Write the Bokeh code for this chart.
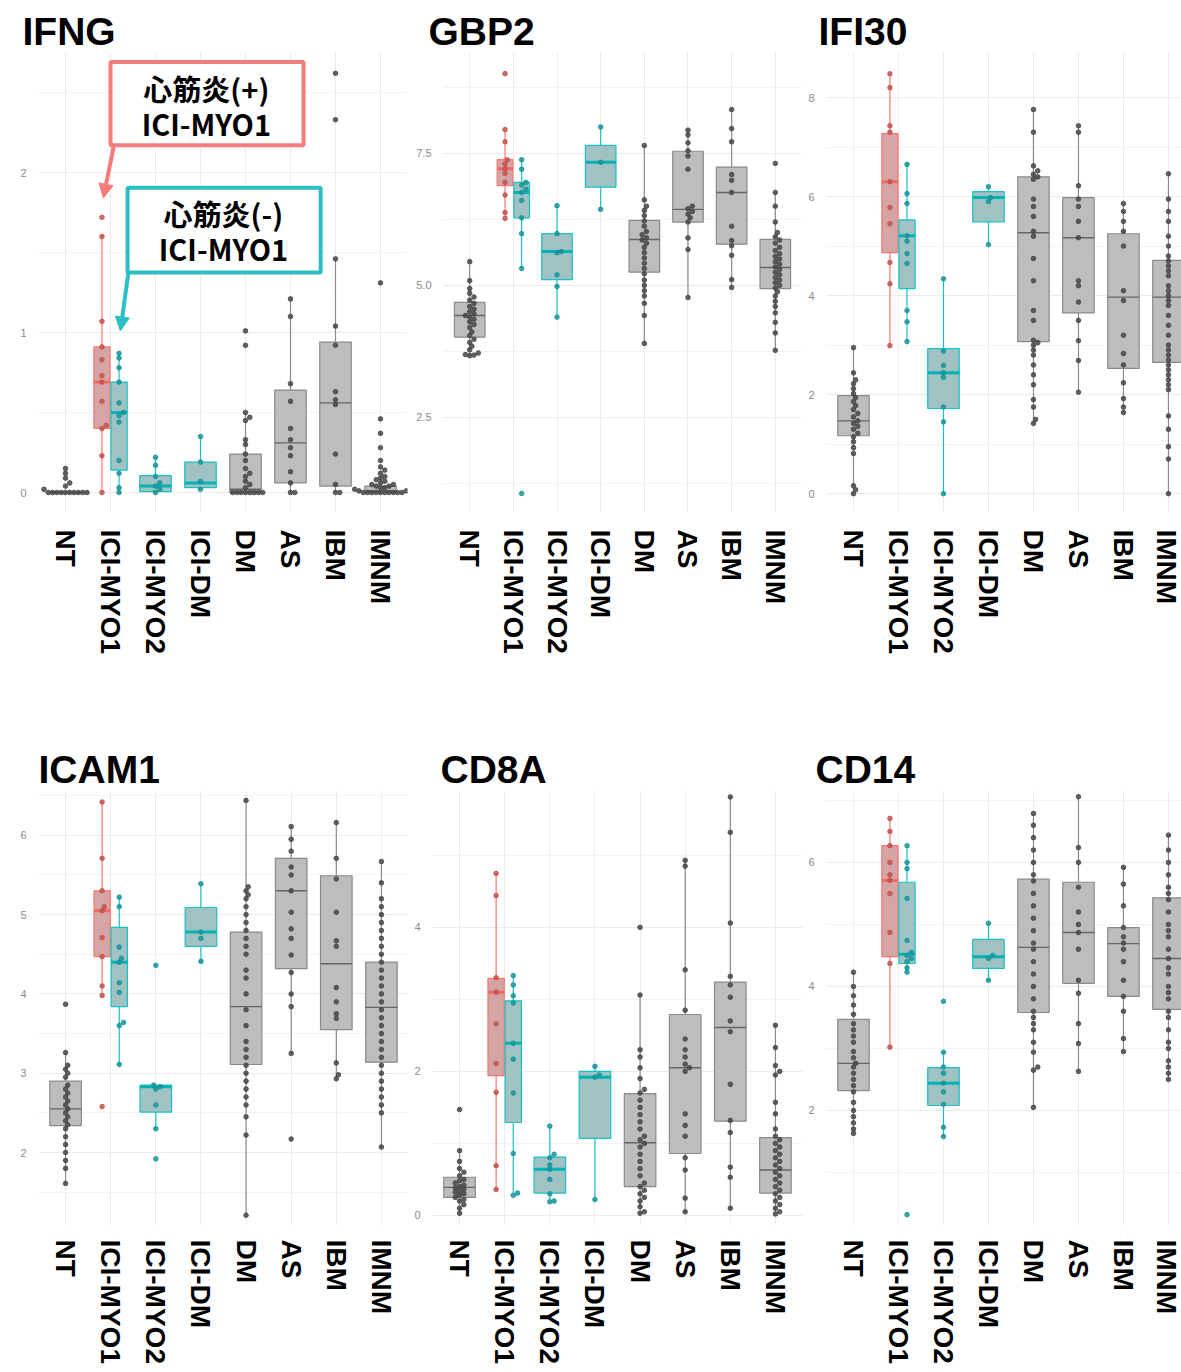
import numpy as np
from bokeh.plotting import figure
from bokeh.layouts import row, column
from bokeh.models import (FixedTicker, BoxAnnotation, Label, Arrow, NormalHead,
                          ColumnDataSource, Range1d)
from bokeh.embed import file_html
from bokeh.resources import INLINE

# ---------------------------------------------------------------- data
categories = ["NT", "ICI-MYO1", "ICI-MYO2", "ICI-DM", "DM", "AS", "IBM", "IMNM"]
groups = ["NT", "ICI-MYO1 心筋炎(+)", "ICI-MYO1 心筋炎(-)", "ICI-MYO2", "ICI-DM",
          "DM", "AS", "IBM", "IMNM"]
group_category = [1, 2, 2, 3, 4, 5, 6, 7, 8]
group_kind = ["gray", "red", "cyan", "cyan", "cyan", "gray", "gray", "gray", "gray"]

# ---- IFNG
ifng_lo = [0.00, 0.00, 0.00, 0.00, 0.02, 0.00, 0.00, 0.00, 0.00]
ifng_q1 = [0.00, 0.40, 0.14, 0.005, 0.03, 0.00, 0.06, 0.04, 0.00]
ifng_med = [0.00, 0.69, 0.50, 0.04, 0.06, 0.02, 0.31, 0.56, 0.01]
ifng_q3 = [0.00, 0.91, 0.69, 0.105, 0.19, 0.24, 0.64, 0.94, 0.04]
ifng_hi = [0.00, 1.60, 0.87, 0.22, 0.35, 0.50, 1.21, 1.46, 0.10]
ifng_pts = [
    [0.15, 0.12, 0.09, 0.06, 0.04, 0.02, 0, 0, 0, 0, 0, 0, 0, 0, 0, 0],
    [1.72, 1.60, 1.07, 0.91, 0.83, 0.73, 0.69, 0.57, 0.42, 0.40, 0.23, 0.00],
    [0.87, 0.84, 0.78, 0.69, 0.56, 0.50, 0.48, 0.44, 0.20, 0.12, 0.03, 0.00],
    [0.22, 0.17, 0.10, 0.06, 0.04, 0.02, 0.00],
    [0.35, 0.19, 0.07, 0.02],
    [1.01, 0.92, 0.50, 0.47, 0.45, 0.33, 0.30, 0.24, 0.20, 0.15, 0.12, 0.10, 0.07,
     0.05, 0.03, 0, 0, 0, 0, 0, 0, 0, 0],
    [1.21, 1.10, 0.68, 0.57, 0.40, 0.33, 0.28, 0.23, 0.13, 0.06, 0.00, 0.00],
    [2.62, 2.33, 1.46, 1.04, 0.92, 0.63, 0.58, 0.55, 0.24, 0.05, 0.00, 0.00],
    [1.31, 0.46, 0.37, 0.28, 0.20, 0.16, 0.14, 0.12, 0.10, 0.09, 0.08, 0.07, 0.06,
     0.05, 0.05, 0.04, 0.04, 0.03, 0.03, 0.02, 0.02, 0.01, 0.01,
     0, 0, 0, 0, 0, 0, 0, 0, 0, 0],
]
ifng_ticks = [0, 1, 2]
ifng_tick_labels = ["0", "1", "2"]

# ---- GBP2
gbp2_lo = [3.67, 6.27, 5.32, 4.40, 6.44, 3.90, 4.77, 4.96, 3.77]
gbp2_q1 = [4.02, 6.89, 6.28, 5.11, 6.86, 5.25, 6.20, 5.78, 4.94]
gbp2_med = [4.43, 7.21, 6.76, 5.64, 7.33, 5.87, 6.44, 6.76, 5.34]
gbp2_q3 = [4.68, 7.38, 6.95, 5.98, 7.65, 6.23, 7.54, 7.24, 5.87]
gbp2_hi = [5.45, 7.95, 7.38, 6.51, 8.00, 7.65, 7.94, 8.33, 6.76]
gbp2_pts = [
    [5.45, 5.09, 4.94, 4.85, 4.78, 4.72, 4.66, 4.60, 4.55, 4.50, 4.46, 4.43, 4.40,
     4.36, 4.31, 4.26, 4.20, 4.12, 4.05, 3.98, 3.92, 3.85, 3.78, 3.72, 3.69, 3.68, 3.67],
    [9.01, 7.95, 7.72, 7.38, 7.30, 7.21, 7.12, 6.95, 6.71, 6.38, 6.27],
    [7.38, 7.20, 6.95, 6.90, 6.82, 6.76, 6.61, 6.28, 5.98, 5.32, 1.06],
    [6.51, 5.98, 5.64, 5.62, 5.20, 4.98, 4.40],
    [8.00, 7.33, 6.44],
    [7.65, 6.62, 6.50, 6.42, 6.32, 6.22, 6.12, 6.02, 5.96, 5.90, 5.86, 5.80, 5.72,
     5.62, 5.52, 5.42, 5.32, 5.22, 5.10, 5.00, 4.90, 4.80, 4.66, 4.43, 3.90],
    [7.94, 7.85, 7.70, 7.55, 7.45, 7.20, 6.50, 6.45, 6.40, 6.35, 6.28, 6.20, 5.90,
     5.68, 4.77],
    [8.33, 7.97, 7.72, 7.10, 6.99, 6.76, 6.12, 5.85, 5.75, 5.57, 5.11, 4.96],
    [7.31, 6.76, 6.50, 6.20, 6.00, 5.92, 5.86, 5.80, 5.72, 5.66, 5.60, 5.55, 5.50,
     5.45, 5.40, 5.35, 5.30, 5.25, 5.20, 5.15, 5.10, 5.05, 5.00, 4.95, 4.88, 4.80,
     4.70, 4.60, 4.48, 4.30, 4.10, 3.77],
]
gbp2_ticks = [2.5, 5.0, 7.5]
gbp2_tick_labels = ["2.5", "5.0", "7.5"]

# ---- IFI30
ifi30_lo = [0.00, 2.99, 3.07, 0.00, 5.03, 1.41, 2.05, 1.64, 0.00]
ifi30_q1 = [1.17, 4.87, 4.14, 1.72, 5.49, 3.07, 3.65, 2.53, 2.65]
ifi30_med = [1.47, 6.30, 5.21, 2.44, 5.98, 5.27, 5.17, 3.97, 3.97]
ifi30_q3 = [1.98, 7.27, 5.53, 2.93, 6.10, 6.40, 5.98, 5.25, 4.71]
ifi30_hi = [2.95, 8.48, 6.65, 4.34, 6.20, 7.76, 7.43, 5.86, 6.46]
ifi30_pts = [
    [2.95, 2.44, 2.30, 2.22, 2.12, 2.02, 1.94, 1.86, 1.78, 1.70, 1.62, 1.55, 1.47,
     1.42, 1.36, 1.30, 1.22, 1.15, 1.05, 0.93, 0.81, 0.16, 0.08, 0.00],
    [8.48, 8.20, 7.43, 7.30, 6.30, 5.78, 5.45, 4.67, 4.24, 2.99],
    [6.65, 6.06, 5.86, 5.21, 5.10, 4.85, 4.65, 3.70, 3.47, 3.07],
    [4.34, 2.88, 2.59, 2.44, 2.35, 1.75, 1.45, 0.00],
    [6.20, 5.98, 5.90, 5.03],
    [7.76, 7.30, 6.62, 6.52, 6.45, 6.40, 6.35, 5.95, 5.80, 5.60, 5.30, 5.20, 4.75,
     4.30, 3.70, 3.50, 3.10, 3.05, 3.00, 2.90, 2.80, 2.60, 2.40, 2.20, 1.90, 1.75,
     1.50, 1.42],
    [7.43, 7.30, 6.22, 5.95, 5.80, 5.50, 5.17, 4.30, 4.20, 3.87, 3.50, 3.09, 2.69, 2.05],
    [5.86, 5.70, 5.50, 5.30, 5.00, 4.10, 3.90, 3.20, 2.83, 2.60, 2.24, 1.92, 1.75, 1.64],
    [6.46, 5.95, 5.70, 5.50, 5.20, 5.00, 4.80, 4.70, 4.60, 4.50, 4.40, 4.20, 4.10,
     4.00, 3.90, 3.80, 3.60, 3.40, 3.20, 3.00, 2.90, 2.80, 2.70, 2.60, 2.50, 2.40,
     2.30, 2.20, 2.10, 1.57, 1.30, 0.95, 0.70, 0.00],
]
ifi30_ticks = [0, 2, 4, 6, 8]
ifi30_tick_labels = ["0", "2", "4", "6", "8"]

# ---- ICAM1
icam1_lo = [1.61, 3.98, 3.11, 2.30, 4.41, 1.21, 3.25, 2.93, 2.07]
icam1_q1 = [2.34, 4.47, 3.84, 2.51, 4.60, 3.11, 4.32, 3.55, 3.14]
icam1_med = [2.55, 5.05, 4.40, 2.83, 4.78, 3.84, 5.30, 4.38, 3.83]
icam1_q3 = [2.90, 5.30, 4.84, 2.85, 5.09, 4.78, 5.71, 5.49, 4.40]
icam1_hi = [3.26, 6.42, 5.22, 2.85, 5.39, 6.44, 6.11, 6.16, 5.67]
icam1_pts = [
    [3.87, 3.26, 3.10, 3.05, 3.00, 2.95, 2.85, 2.80, 2.75, 2.70, 2.65, 2.60, 2.55,
     2.50, 2.45, 2.40, 2.35, 2.30, 2.20, 2.10, 2.00, 1.90, 1.80, 1.61],
    [6.42, 5.71, 5.30, 5.10, 5.05, 4.71, 4.47, 4.10, 3.98, 2.58],
    [5.22, 5.10, 4.59, 4.45, 4.40, 4.14, 4.02, 3.64, 3.60, 3.11],
    [4.36, 2.85, 2.83, 2.80, 2.60, 2.30, 1.92],
    [5.39, 4.78, 4.70, 4.41],
    [6.44, 5.35, 5.30, 5.25, 5.20, 5.10, 5.00, 4.90, 4.80, 4.70, 4.60, 4.50, 4.30,
     4.20, 4.00, 3.80, 3.60, 3.40, 3.30, 3.20, 3.10, 3.00, 2.90, 2.80, 2.70, 2.60,
     2.45, 2.22, 1.21],
    [6.11, 5.95, 5.80, 5.60, 5.50, 5.30, 5.03, 4.82, 4.70, 4.49, 4.27, 4.00, 3.84,
     3.25, 2.17],
    [6.16, 5.71, 5.45, 5.03, 4.67, 4.60, 4.08, 3.90, 3.75, 3.69, 3.13, 2.98, 2.93],
    [5.67, 5.40, 5.20, 5.10, 5.00, 4.90, 4.80, 4.70, 4.60, 4.50, 4.40, 4.30, 4.20,
     4.10, 4.00, 3.90, 3.80, 3.70, 3.60, 3.50, 3.40, 3.30, 3.20, 3.10, 3.00, 2.90,
     2.80, 2.70, 2.60, 2.50, 2.07],
]
icam1_ticks = [2, 3, 4, 5, 6]
icam1_tick_labels = ["2", "3", "4", "5", "6"]

# ---- CD8A
cd8a_lo = [0.03, 0.36, 0.31, 0.19, 0.22, 0.03, 0.03, 0.10, 0.02]
cd8a_q1 = [0.25, 1.94, 1.29, 0.31, 1.07, 0.40, 0.86, 1.31, 0.31]
cd8a_med = [0.39, 3.10, 2.39, 0.64, 1.92, 1.01, 2.05, 2.61, 0.63]
cd8a_q3 = [0.53, 3.29, 2.98, 0.81, 2.00, 1.69, 2.79, 3.24, 1.08]
cd8a_hi = [0.90, 4.75, 3.33, 1.24, 2.07, 3.06, 4.93, 5.81, 2.64]
cd8a_pts = [
    [1.47, 0.90, 0.75, 0.65, 0.60, 0.55, 0.50, 0.48, 0.45, 0.42, 0.40, 0.38, 0.36,
     0.34, 0.32, 0.30, 0.28, 0.25, 0.22, 0.20, 0.15, 0.10, 0.03],
    [4.75, 4.44, 3.30, 3.10, 2.66, 2.11, 1.71, 0.69, 0.36],
    [3.33, 3.20, 3.05, 2.95, 2.39, 2.17, 1.70, 0.86, 0.31, 0.28],
    [1.24, 0.85, 0.80, 0.70, 0.64, 0.50, 0.30, 0.20, 0.19],
    [2.07, 1.95, 1.92, 0.22],
    [4.00, 3.06, 2.30, 2.20, 2.05, 1.90, 1.75, 1.70, 1.60, 1.50, 1.40, 1.30, 1.20,
     1.10, 1.05, 1.00, 0.95, 0.85, 0.75, 0.65, 0.55, 0.45, 0.40, 0.35, 0.30, 0.25,
     0.20, 0.12, 0.05, 0.03],
    [4.93, 4.85, 3.41, 2.85, 2.45, 2.30, 2.20, 2.10, 2.05, 2.00, 1.41, 1.25, 1.10,
     0.80, 0.63, 0.24, 0.05],
    [5.81, 5.32, 4.06, 3.32, 3.20, 3.03, 2.70, 2.55, 1.82, 1.32, 1.15, 0.67, 0.53, 0.10],
    [2.64, 2.33, 2.08, 2.00, 1.95, 1.57, 1.41, 1.20, 1.10, 1.05, 1.00, 0.95, 0.90,
     0.85, 0.80, 0.75, 0.70, 0.65, 0.60, 0.55, 0.50, 0.45, 0.40, 0.35, 0.30, 0.25,
     0.20, 0.15, 0.10, 0.05, 0.02],
]
cd8a_ticks = [0, 2, 4]
cd8a_tick_labels = ["0", "2", "4"]

# ---- CD14
cd14_lo = [1.63, 3.02, 4.23, 1.58, 4.10, 2.05, 2.63, 2.95, 2.50]
cd14_q1 = [2.32, 4.48, 4.37, 2.08, 4.29, 3.58, 4.05, 3.84, 3.63]
cd14_med = [2.76, 5.71, 4.52, 2.44, 4.48, 4.63, 4.87, 4.69, 4.45]
cd14_q3 = [3.47, 6.27, 5.68, 2.69, 4.76, 5.73, 5.68, 4.95, 5.43]
cd14_hi = [4.23, 6.71, 6.27, 2.94, 5.02, 6.79, 7.06, 5.92, 6.44]
cd14_pts = [
    [4.23, 4.00, 3.85, 3.70, 3.55, 3.40, 3.30, 3.20, 3.10, 2.95, 2.85, 2.76, 2.70,
     2.60, 2.50, 2.40, 2.30, 2.13, 2.00, 1.90, 1.80, 1.70, 1.63],
    [6.71, 6.50, 6.27, 6.00, 5.80, 5.71, 5.50, 4.87, 4.37, 3.02],
    [6.27, 6.00, 5.90, 5.42, 4.74, 4.55, 4.50, 4.45, 4.40, 4.30, 4.23, 0.32],
    [3.76, 2.94, 2.70, 2.60, 2.44, 2.30, 2.10, 1.73, 1.58],
    [5.02, 4.50, 4.45, 4.10],
    [6.79, 6.60, 6.40, 6.20, 6.00, 5.80, 5.70, 5.50, 5.30, 5.10, 4.90, 4.70, 4.60,
     4.40, 4.20, 4.00, 3.80, 3.60, 3.50, 3.40, 3.30, 3.10, 2.94, 2.70, 2.65, 2.05],
    [7.06, 6.24, 6.00, 5.60, 5.20, 5.00, 4.87, 4.60, 4.10, 3.89, 3.40, 3.08, 2.63],
    [5.92, 5.65, 5.30, 4.95, 4.80, 4.70, 4.60, 4.40, 4.10, 3.84, 3.60, 3.16, 2.95],
    [6.44, 6.20, 6.00, 5.80, 5.60, 5.50, 5.40, 5.20, 5.00, 4.90, 4.80, 4.60, 4.45,
     4.30, 4.20, 4.00, 3.90, 3.80, 3.60, 3.50, 3.30, 3.10, 3.00, 2.80, 2.70, 2.60, 2.50],
]
cd14_ticks = [2, 4, 6]
cd14_tick_labels = ["2", "4", "6"]

# ---------------------------------------------------------------- styles
STYLE = {
    "gray": dict(fill="#BDBDBD", line="#8A8A8A", median="#666666", mw=1.4, pt="#474747"),
    "red": dict(fill="#D4A5A4", line="#F8766D", median="#F06A63", mw=3.0, pt="#C4514C"),
    "cyan": dict(fill="#A1C2C3", line="#19C0C4", median="#00B2B6", mw=3.0, pt="#159599"),
}
DODGE = [0.0, -0.19, 0.19, 0.0, 0.0, 0.0, 0.0, 0.0, 0.0]
BOXW = [0.70, 0.36, 0.36, 0.70, 0.70, 0.70, 0.70, 0.70, 0.70]
LABEL_FONT = "Liberation Sans"


def swarm_offsets(vals, px_x, px_y, d=4.3):
    vals = np.asarray(vals, dtype=float)
    order = np.argsort(vals, kind="stable")
    cand = [0.0]
    for k in range(1, 60):
        cand += [k * d * 0.5, -k * d * 0.5]
    placed = []
    offs = np.zeros(len(vals))
    for i in order:
        y = vals[i] * px_y
        for c in cand:
            ok = True
            for (px, py) in placed:
                if (c - px) ** 2 + (y - py) ** 2 < d * d * 0.98:
                    ok = False
                    break
            if ok:
                break
        placed.append((c, y))
        offs[i] = c / px_x
    return offs


def make_panel(gene, lo, q1, med, q3, hi, pts, ticks, tick_labels, minor, spec):
    fw, fh = spec["fw"], spec["fh"]
    x0, x1 = spec["x"]
    y0, y1 = spec["y"]
    p = figure(frame_width=fw, frame_height=fh,
               x_range=Range1d(x0, x1), y_range=Range1d(y0, y1),
               output_backend="svg", toolbar_location=None,
               min_border_left=spec["l"], min_border_right=spec["r"],
               min_border_top=spec["t"], min_border_bottom=spec["b"],
               title=gene, background_fill_color="white", border_fill_color="white")
    p.outline_line_color = None
    p.title.text_font = LABEL_FONT
    p.title.text_font_style = "bold"
    p.title.text_font_size = "39px"
    p.title.text_color = "black"
    p.title.align = "left"
    p.title.offset = spec["toff"]
    p.title.standoff = 0

    # axes
    p.xaxis.ticker = FixedTicker(ticks=list(range(1, len(categories) + 1)))
    p.xaxis.major_label_overrides = {i + 1: c for i, c in enumerate(categories)}
    p.xaxis.major_label_orientation = "vertical"
    p.xaxis.major_label_text_font = LABEL_FONT
    p.xaxis.major_label_text_font_style = "bold"
    p.xaxis.major_label_text_font_size = "28px"
    p.xaxis.major_label_text_color = "black"
    p.xaxis.major_label_standoff = spec["xs"]
    p.yaxis.ticker = FixedTicker(ticks=ticks, minor_ticks=minor)
    p.yaxis.major_label_overrides = {float(t): s for t, s in zip(ticks, tick_labels)}
    p.yaxis.major_label_text_font = LABEL_FONT
    p.yaxis.major_label_text_font_size = "11px"
    p.yaxis.major_label_text_color = "#8A8A8A"
    p.yaxis.major_label_standoff = 6
    for ax in (p.xaxis, p.yaxis):
        ax.axis_line_color = None
        ax.major_tick_line_color = None
        ax.minor_tick_line_color = None
    p.xgrid.grid_line_color = "#EBEBEB"
    p.ygrid.grid_line_color = "#EBEBEB"
    p.ygrid.minor_grid_line_color = "#F3F3F3"

    px_x = fw / (x1 - x0)
    px_y = fh / (y1 - y0)

    bx = dict(left=[], right=[], q1=[], q3=[], fill=[], line=[], xc=[], lo=[], hi=[],
              med=[], mcol=[], mw=[])
    pt = dict(x=[], y=[], c=[])
    for g in range(len(groups)):
        st = STYLE[group_kind[g]]
        xc = group_category[g] + DODGE[g]
        w = BOXW[g]
        bx["left"].append(xc - w / 2)
        bx["right"].append(xc + w / 2)
        bx["q1"].append(q1[g])
        bx["q3"].append(q3[g])
        bx["lo"].append(lo[g])
        bx["hi"].append(hi[g])
        bx["med"].append(med[g])
        bx["xc"].append(xc)
        bx["fill"].append(st["fill"])
        bx["line"].append(st["line"])
        bx["mcol"].append(st["median"])
        bx["mw"].append(st["mw"])
        offs = swarm_offsets(pts[g], px_x, px_y)
        for v, o in zip(pts[g], offs):
            pt["x"].append(xc + o)
            pt["y"].append(v)
            pt["c"].append(st["pt"])
    src = ColumnDataSource(bx)
    p.segment(x0="xc", y0="lo", x1="xc", y1="q1", line_color="line", line_width=1.2, source=src)
    p.segment(x0="xc", y0="q3", x1="xc", y1="hi", line_color="line", line_width=1.2, source=src)
    p.quad(left="left", right="right", bottom="q1", top="q3", fill_color="fill",
           line_color="line", line_width=1.2, source=src)
    p.segment(x0="left", y0="med", x1="right", y1="med", line_color="mcol",
              line_width="mw", source=src)
    p.scatter(x="x", y="y", color="c", size=4.6, alpha=0.85, source=ColumnDataSource(pt))
    return p


row1 = dict(fh=460, t=52, b=188)
row2 = dict(fh=435, t=90, b=140)
specs = [
    dict(row1, fw=369, l=38, r=3, x=(0.4, 8.6), y=(-0.125, 2.75), toff=-16, xs=11),
    dict(row1, fw=358, l=33, r=4, x=(0.4, 8.6), y=(0.70, 9.41), toff=-15, xs=11),
    dict(row1, fw=355, l=21, r=0, x=(0.4, 8.29), y=(-0.38, 8.91), toff=-8, xs=11),
    dict(row2, fw=370, l=38, r=2, x=(0.4, 8.6), y=(1.08, 6.565), toff=0, xs=8),
    dict(row2, fw=370, l=22, r=3, x=(0.4, 8.6), y=(-0.14, 5.90), toff=8, xs=8),
    dict(row2, fw=355, l=21, r=0, x=(0.4, 8.29), y=(0.145, 7.16), toff=-11, xs=8),
]

p1 = make_panel("IFNG", ifng_lo, ifng_q1, ifng_med, ifng_q3, ifng_hi, ifng_pts,
                ifng_ticks, ifng_tick_labels, [0.5, 1.5, 2.5], specs[0])
p2 = make_panel("GBP2", gbp2_lo, gbp2_q1, gbp2_med, gbp2_q3, gbp2_hi, gbp2_pts,
                gbp2_ticks, gbp2_tick_labels, [1.25, 3.75, 6.25, 8.75], specs[1])
p3 = make_panel("IFI30", ifi30_lo, ifi30_q1, ifi30_med, ifi30_q3, ifi30_hi, ifi30_pts,
                ifi30_ticks, ifi30_tick_labels, [1, 3, 5, 7], specs[2])
p4 = make_panel("ICAM1", icam1_lo, icam1_q1, icam1_med, icam1_q3, icam1_hi, icam1_pts,
                icam1_ticks, icam1_tick_labels, [1.5, 2.5, 3.5, 4.5, 5.5, 6.5], specs[3])
p5 = make_panel("CD8A", cd8a_lo, cd8a_q1, cd8a_med, cd8a_q3, cd8a_hi, cd8a_pts,
                cd8a_ticks, cd8a_tick_labels, [1, 3, 5], specs[4])
p6 = make_panel("CD14", cd14_lo, cd14_q1, cd14_med, cd14_q3, cd14_hi, cd14_pts,
                cd14_ticks, cd14_tick_labels, [1, 3, 5, 7], specs[5])

# ---------------------------------------------------------------- callouts (IFNG)
RED_C = "#F47C7C"
CYAN_C = "#2BBFC4"
ANN_FONT = "Noto Sans CJK JP"
callouts = [
    dict(color=RED_C, box=(2.0, 6.29, 2.17, 2.69), lines=["心筋炎(+)", "ICI-MYO1"],
         tx=4.13, ty=[2.53, 2.31], arrow=(2.07, 2.16, 1.84, 1.84)),
    dict(color=CYAN_C, box=(2.38, 6.67, 1.375, 1.905), lines=["心筋炎(-)", "ICI-MYO1"],
         tx=4.51, ty=[1.75, 1.53], arrow=(2.40, 1.38, 2.22, 1.01)),
]
for c in callouts:
    l, r, b, t = c["box"]
    p1.add_layout(BoxAnnotation(left=l, right=r, bottom=b, top=t, fill_color="white",
                                fill_alpha=1.0, line_color=c["color"], line_alpha=1.0,
                                line_width=4))
    for txt, yy in zip(c["lines"], c["ty"]):
        p1.add_layout(Label(x=c["tx"], y=yy, text=txt, text_align="center",
                            text_baseline="middle", text_font=ANN_FONT,
                            text_font_style="bold", text_font_size="29px",
                            text_color="black"))
    xs, ys, xe, ye = c["arrow"]
    p1.add_layout(Arrow(end=NormalHead(size=14, fill_color=c["color"], line_color=c["color"]),
                        x_start=xs, y_start=ys, x_end=xe, y_end=ye,
                        line_color=c["color"], line_width=4))

layout = column(row(p1, p2, p3), row(p4, p5, p6))
open("out.html", "w").write(file_html(layout, INLINE))
